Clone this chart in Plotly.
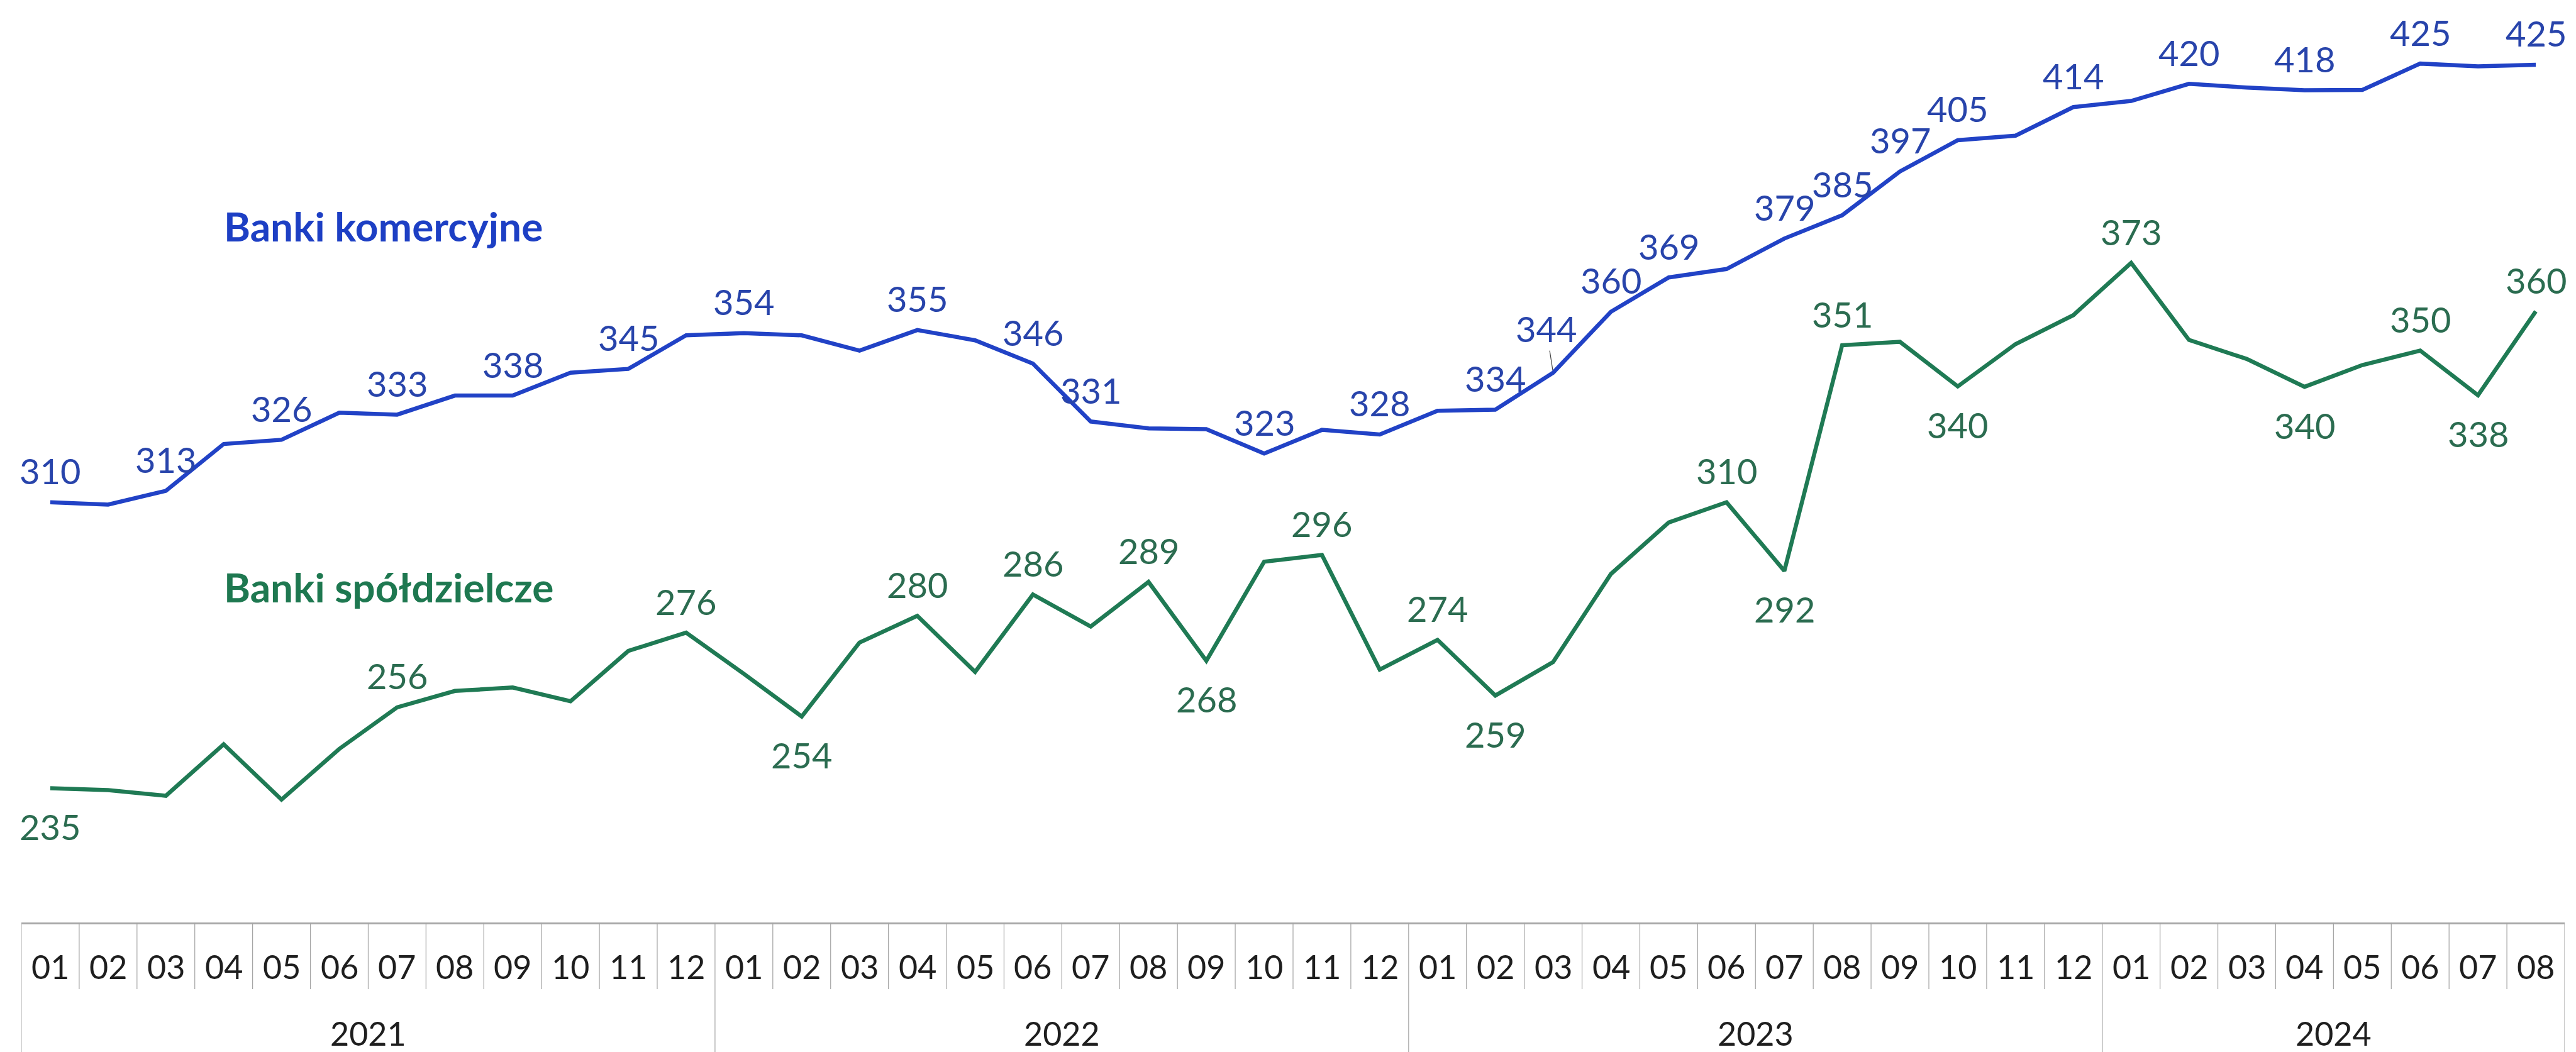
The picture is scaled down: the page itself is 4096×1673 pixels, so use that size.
import plotly.graph_objects as go

# ---------------- data ----------------
months = ["01", "02", "03", "04", "05", "06", "07", "08", "09", "10", "11", "12",
          "01", "02", "03", "04", "05", "06", "07", "08", "09", "10", "11", "12",
          "01", "02", "03", "04", "05", "06", "07", "08", "09", "10", "11", "12",
          "01", "02", "03", "04", "05", "06", "07", "08"]
years = ["2021", "2022", "2023", "2024"]
year_counts = [12, 12, 12, 8]

komercyjne = [310, 309.4, 313, 325.3, 326.4, 333.5, 333, 338, 338, 344, 345, 353.8,
              354.4, 353.8, 349.8, 355.2, 352.5, 346.4, 331.2, 329.4, 329.2, 322.8, 329, 327.8,
              334, 334.3, 344, 360, 369, 371.2, 379.2, 385.3, 396.8, 405, 406.2, 413.7,
              415.3, 419.8, 418.8, 418.1, 418.2, 425.1, 424.4, 424.8]
spoldzielcze = [235, 234.5, 233, 246.5, 232, 245.3, 256.2, 260.5, 261.4, 257.8, 271, 275.8,
                265, 253.8, 273.2, 280.2, 265.5, 285.8, 277.4, 289.1, 268.4, 294.4, 296.2, 266.1,
                273.9, 259.3, 268.1, 291.2, 304.7, 310, 292, 351.2, 352.1, 340.4, 351.5, 359.1,
                372.8, 352.6, 347.6, 340.3, 346, 349.8, 338.1, 360.1]

kom_label_idx = [0, 2, 4, 6, 8, 10, 12, 15, 17, 18, 21, 23, 25, 26, 27, 28, 30, 31, 32, 33, 35, 37, 39, 41, 43]
spo_label_idx = [0, 6, 11, 13, 15, 17, 19, 20, 22, 24, 25, 29, 30, 31, 33, 36, 39, 41, 42, 43]
spo_label_pos = ["below", "above", "above", "below", "above", "above", "above", "below", "above", "above",
                 "below", "above", "below", "above", "below", "above", "below", "above", "below", "above"]
leader_idx = 26  # label of komercyjne moved up with a leader line

series_names = ["Banki komercyjne", "Banki spółdzielcze"]

# ---------------- style ----------------
W, H = 4096, 1673
S = W / 4656.0
BLUE_LINE = "#2142c6"
BLUE_TEXT = "#2844ab"
BLUE_TITLE = "#1d3fc4"
GREEN_LINE = "#1f7a54"
GREEN_TEXT = "#2b6c50"
GREEN_TITLE = "#1e7850"
FONT = "Lato"

ML, MR, MT, MB = 34, 18, 0, 206
plot_h = H - MT - MB

x = list(range(len(months)))

fig = go.Figure()
fig.add_trace(go.Scatter(x=x, y=komercyjne, mode="lines", name=series_names[0],
                         line=dict(color=BLUE_LINE, width=6.5), hoverinfo="skip"))
fig.add_trace(go.Scatter(x=x, y=spoldzielcze, mode="lines", name=series_names[1],
                         line=dict(color=GREEN_LINE, width=6.5), hoverinfo="skip"))

ann = []
ABOVE = 50
BELOW = -61
for i in kom_label_idx:
    v = komercyjne[i]
    if i == leader_idx:
        ann.append(dict(x=i, y=v, xref="x", yref="y", text=f"{round(v)}", showarrow=True,
                        ax=-11, ay=-70, arrowhead=0, arrowwidth=1.2, arrowcolor="#404040",
                        standoff=4, font=dict(family=FONT, size=56, color=BLUE_TEXT)))
    else:
        ann.append(dict(x=i, y=v, xref="x", yref="y", text=f"{round(v)}", showarrow=False,
                        yshift=ABOVE, xanchor="center", yanchor="middle",
                        font=dict(family=FONT, size=56, color=BLUE_TEXT)))
for i, pos in zip(spo_label_idx, spo_label_pos):
    v = spoldzielcze[i]
    ann.append(dict(x=i, y=v, xref="x", yref="y", text=f"{round(v)}", showarrow=False,
                    yshift=ABOVE if pos == "above" else BELOW, xanchor="center", yanchor="middle",
                    font=dict(family=FONT, size=56, color=GREEN_TEXT)))

# series names
ann.append(dict(x=(354 - ML) / (W - ML - MR), y=1 - 359 / plot_h, xref="paper", yref="paper",
                text=series_names[0], showarrow=False, xanchor="left", yanchor="middle",
                font=dict(family=FONT, size=64, color=BLUE_TITLE, weight="bold")))
ann.append(dict(x=(354 - ML) / (W - ML - MR), y=1 - 933 / plot_h, xref="paper", yref="paper",
                text=series_names[1], showarrow=False, xanchor="left", yanchor="middle",
                font=dict(family=FONT, size=64, color=GREEN_TITLE, weight="bold")))

# month labels
for i, m in enumerate(months):
    ann.append(dict(x=i, y=0, xref="x", yref="paper", text=m, showarrow=False,
                    yshift=-70, xanchor="center", yanchor="middle",
                    font=dict(family=FONT, size=52, color="#1e1e1e")))

# year labels + boundaries
shapes = []
bounds = [-0.5]
start = 0
for yr, n in zip(years, year_counts):
    center = start + (n - 1) / 2.0
    ann.append(dict(x=center, y=0, xref="x", yref="paper", text=yr, showarrow=False,
                    yshift=-176, xanchor="center", yanchor="middle",
                    font=dict(family=FONT, size=52, color="#1e1e1e")))
    start += n
    bounds.append(start - 0.5)

month_y1 = -106 / plot_h
year_y1 = -MB / plot_h
for k in range(len(months) - 1):
    xb = k + 0.5
    if xb in bounds:
        continue
    shapes.append(dict(type="line", xref="x", yref="paper", x0=xb, x1=xb, y0=0, y1=month_y1,
                       line=dict(color="#a3a3a3", width=1.2)))
for xb in bounds:
    shapes.append(dict(type="line", xref="x", yref="paper", x0=xb, x1=xb, y0=0, y1=year_y1,
                       line=dict(color="#a3a3a3", width=1.2)))

y_top = 310 + (908) / 6.89
y_bot = 310 - ((H - MB) / S - 908) / 6.89

fig.update_layout(
    width=W, height=H,
    margin=dict(l=ML, r=MR, t=MT, b=MB, pad=0),
    paper_bgcolor="white", plot_bgcolor="white",
    showlegend=False,
    xaxis=dict(range=[-0.5, len(months) - 0.5], showticklabels=False, showgrid=False,
               zeroline=False, showline=True, linecolor="#a8a8a8", linewidth=2.5, ticks=""),
    yaxis=dict(range=[y_bot, y_top], visible=False, showgrid=False, zeroline=False),
    annotations=ann,
    shapes=shapes,
    font=dict(family=FONT),
)

fig.write_html("out.html", config={"displayModeBar": False, "staticPlot": True},
               post_script="document.body.style.margin='0';document.body.style.overflow='hidden';")
